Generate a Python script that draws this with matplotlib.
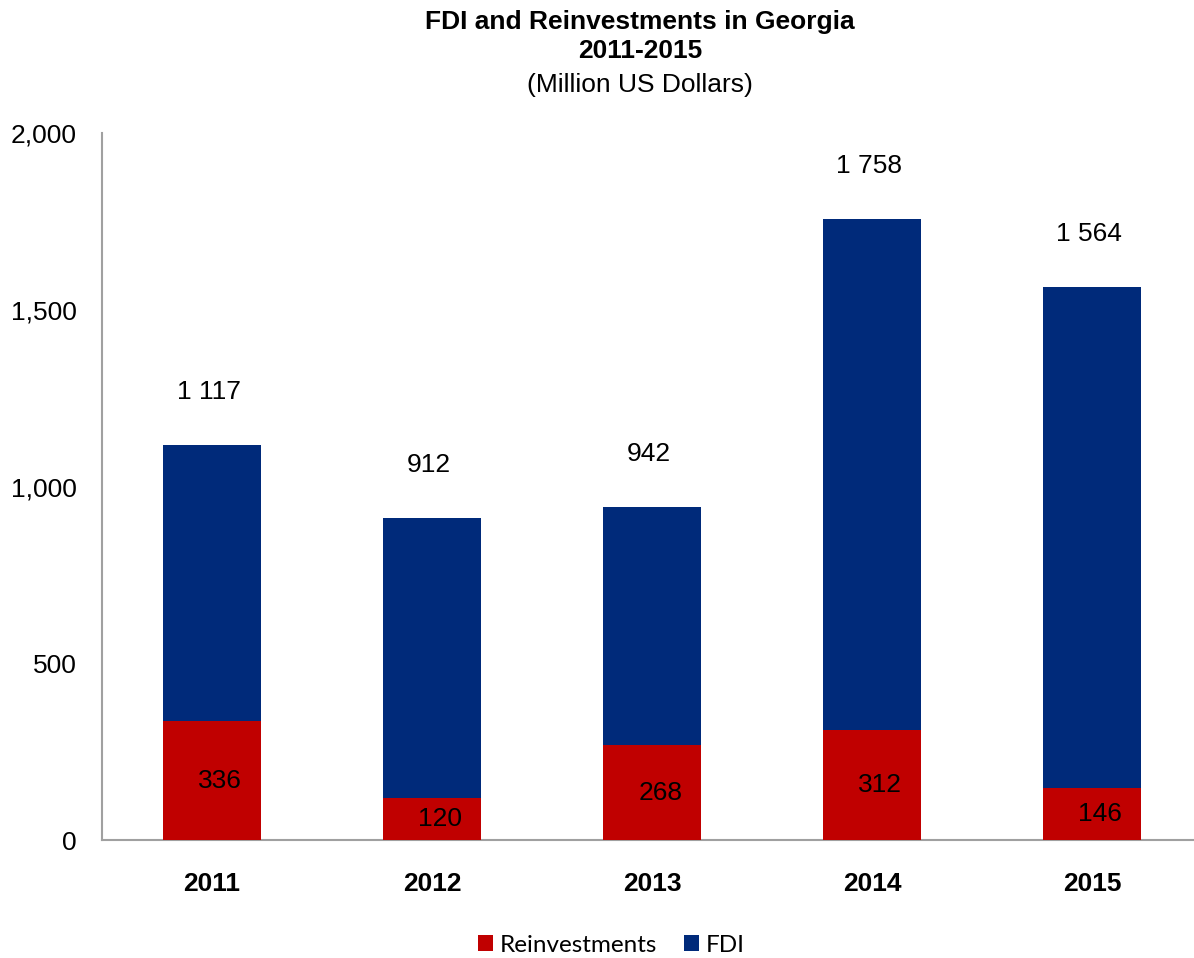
import numpy as np
import matplotlib.pyplot as plt
from matplotlib.ticker import FuncFormatter

plt.rcParams['font.family'] = ['Liberation Sans', 'DejaVu Sans']

years = ['2011', '2012', '2013', '2014', '2015']
fdi = [1117, 912, 942, 1758, 1564]
reinvest = [336, 120, 268, 312, 146]

blue = '#002A7A'
red = '#C00000'

fig = plt.figure(figsize=(11.94, 9.58), dpi=100)
ax = fig.add_axes([102 / 1194, 1 - 840 / 958, 1092 / 1194, 707 / 958])

x = np.arange(len(years))
w = 0.445
ax.bar(x, fdi, width=w, color=blue, label='FDI', zorder=2)
ax.bar(x, reinvest, width=w, color=red, label='Reinvestments', zorder=3)

# labels
for xi, v in zip(x, fdi):
    ax.annotate(f'{v:,}'.replace(',', ' '), (xi, v), xytext=(-2, 38),
                textcoords='offset points', ha='center', va='center', fontsize=19)
for xi, v in zip(x, reinvest):
    ax.annotate(str(v), (xi, v / 2), xytext=(6, 0),
                textcoords='offset points', ha='center', va='center', fontsize=19,
                zorder=4)

ax.set_xlim(-0.5, 4.464)
ax.set_ylim(0, 2000)
ax.set_yticks([0, 500, 1000, 1500, 2000])
ax.yaxis.set_major_formatter(FuncFormatter(lambda v, p: f'{int(v):,}'))
ax.set_xticks(x)
ax.set_xticklabels(years, fontweight='bold')
ax.tick_params(axis='both', length=0, labelsize=19)
ax.tick_params(axis='y', pad=18)
ax.tick_params(axis='x', pad=23)
for s in ['top', 'right']:
    ax.spines[s].set_visible(False)
for s in ['left', 'bottom']:
    ax.spines[s].set_color('#A0A0A0')
    ax.spines[s].set_linewidth(1.5)

# titles
fig.text(640 / 1194, 1 - 22 / 958, 'FDI and Reinvestments in Georgia', ha='center',
         va='center', fontsize=19, fontweight='bold')
fig.text(640 / 1194, 1 - 51 / 958, '2011-2015', ha='center', va='center',
         fontsize=19, fontweight='bold')
fig.text(640 / 1194, 1 - 85 / 958, '(Million US Dollars)', ha='center', va='center',
         fontsize=19)

handles, labels = ax.get_legend_handles_labels()
fig.legend(handles[::-1], labels[::-1], loc='center', bbox_to_anchor=(611 / 1194, 1 - 945 / 958),
           ncol=2, frameon=False, prop={'family': 'Lato', 'size': 17.5},
           handlelength=0.65, handleheight=0.65, handletextpad=0.25, columnspacing=1.1)

fig.savefig('out.png', dpi=100)
